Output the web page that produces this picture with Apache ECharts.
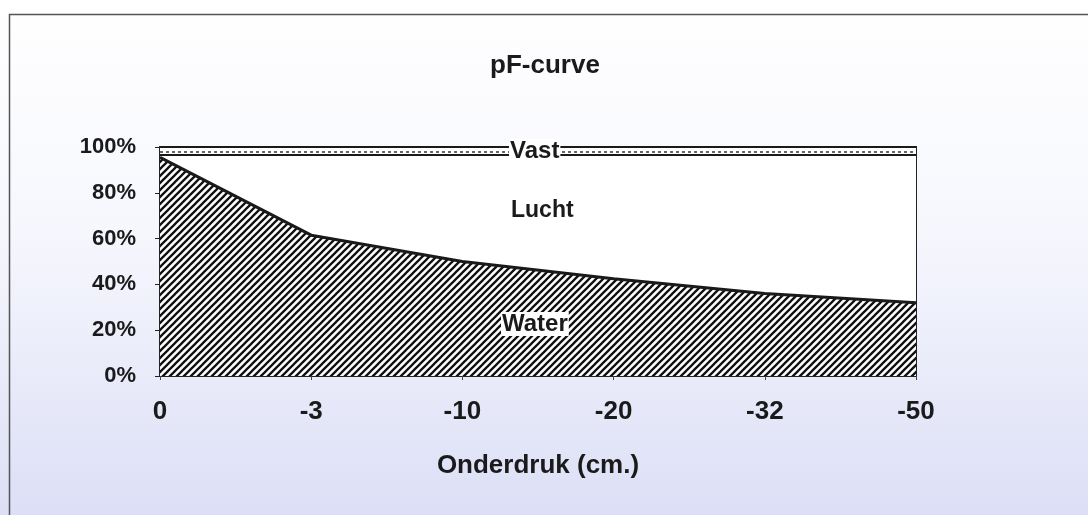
<!DOCTYPE html>
<html>
<head>
<meta charset="utf-8">
<script src="https://cdn.jsdelivr.net/npm/echarts@6/dist/echarts.min.js"></script>
<style>
  html, body { margin: 0; padding: 0; }
  #chart { width: 1088px; height: 515px; }
</style>
</head>
<body>
<div id="chart"></div>
<script>
  // pF-curve: water / lucht / vast per onderdruk
  const categories = ['0', '-3', '-10', '-20', '-32', '-50']
  const water = [95.5, 61.5, 50, 42.5, 36, 32]
  const vast = [3.5, 3.5, 3.5, 3.5, 3.5, 3.5]
  const lucht = water.map((w, i) => 100 - vast[i] - w)
  const yTicks = [0, 20, 40, 60, 80, 100]

  const font = '"Liberation Sans", Arial, sans-serif'

  // diagonal hatch for the water area
  function hatch() {
    const s = 7
    const c = document.createElement('canvas')
    c.width = s
    c.height = s
    const ctx = c.getContext('2d')
    ctx.fillStyle = '#fff'
    ctx.fillRect(0, 0, s, s)
    ctx.strokeStyle = '#111'
    ctx.lineWidth = 2.3
    ctx.beginPath()
    ctx.moveTo(0, s); ctx.lineTo(s, 0)
    ctx.moveTo(-1, 1); ctx.lineTo(1, -1)
    ctx.moveTo(s - 1, s + 1); ctx.lineTo(s + 1, s - 1)
    ctx.stroke()
    return c
  }

  const chart = echarts.init(document.getElementById('chart'))

  chart.setOption({
    animation: false,
    backgroundColor: {
      type: 'linear', x: 0, y: 0, x2: 0, y2: 1,
      colorStops: [
        { offset: 0, color: '#ffffff' },
        { offset: 0.45, color: '#f6f7fd' },
        { offset: 1, color: '#dcdff6' }
      ]
    },
    title: {
      text: 'pF-curve',
      left: 540,
      top: 48,
      textAlign: 'center',
      textStyle: { fontFamily: font, fontSize: 26, fontWeight: 'bold', color: '#1a1a1a' }
    },
    grid: {
      left: 160,
      right: 172,
      top: 147,
      bottom: 139,
      show: true,
      backgroundColor: '#ffffff',
      borderColor: '#222',
      borderWidth: 2
    },
    xAxis: {
      type: 'category',
      data: categories,
      boundaryGap: false,
      name: 'Onderdruk (cm.)',
      nameLocation: 'middle',
      nameGap: 77,
      nameTextStyle: { fontFamily: font, fontSize: 26, fontWeight: 'bold', color: '#1a1a1a' },
      axisLine: { lineStyle: { color: '#222', width: 2 } },
      axisTick: { show: true, length: 4, alignWithLabel: true, lineStyle: { color: '#444' } },
      axisLabel: { margin: 23, fontFamily: font, fontSize: 26, fontWeight: 'bold', color: '#1a1a1a' }
    },
    yAxis: {
      type: 'value',
      min: yTicks[0],
      max: yTicks[yTicks.length - 1],
      interval: 20,
      splitLine: { show: false },
      axisLine: { show: true, lineStyle: { color: '#222', width: 2 } },
      axisTick: { show: true, length: 5, lineStyle: { color: '#222' } },
      axisLabel: {
        formatter: '{value}%', margin: 24,
        fontFamily: font, fontSize: 22, fontWeight: 'bold', color: '#1a1a1a'
      }
    },
    series: [
      {
        name: 'Water',
        type: 'line',
        stack: 'pf',
        data: water,
        symbol: 'none',
        lineStyle: { color: '#1a1a1a', width: 3 },
        areaStyle: { color: { image: hatch(), repeat: 'repeat' }, opacity: 1 },
        z: 3
      },
      {
        name: 'Lucht',
        type: 'line',
        stack: 'pf',
        data: lucht,
        symbol: 'none',
        lineStyle: { color: '#1a1a1a', width: 2 },
        areaStyle: { color: '#ffffff', opacity: 1 },
        z: 2
      },
      {
        name: 'Vast',
        type: 'line',
        stack: 'pf',
        data: vast,
        symbol: 'none',
        lineStyle: { color: '#1a1a1a', width: 2 },
        areaStyle: { color: '#ffffff', opacity: 1 },
        markLine: {
          silent: true,
          symbol: 'none',
          label: { show: false },
          lineStyle: { color: '#333', width: 1.5, type: [3, 3] },
          data: [{ yAxis: 100 - vast[0] / 2 - 0.3 }]
        },
        z: 2
      }
    ],
    graphic: [
      {
        type: 'rect',
        left: 7, top: 12,
        shape: { width: 1200, height: 600 },
        style: { fill: 'none', stroke: '#555', lineWidth: 1.5 },
        silent: true
      },
      {
        type: 'text', left: 509, top: 139, z: 100,
        style: {
          text: 'Vast', font: 'bold 24px ' + font, fill: '#1a1a1a',
          backgroundColor: '#fff', padding: [0, 1]
        }
      },
      {
        type: 'text', left: 511, top: 199, z: 100,
        style: { text: 'Lucht', font: 'bold 23px ' + font, fill: '#1a1a1a' }
      },
      {
        type: 'text', left: 501, top: 312, z: 100,
        style: {
          text: 'Water', font: 'bold 24px ' + font, fill: '#1a1a1a',
          backgroundColor: '#fff', padding: [0, 1]
        }
      }
    ]
  })
</script>
</body>
</html>
